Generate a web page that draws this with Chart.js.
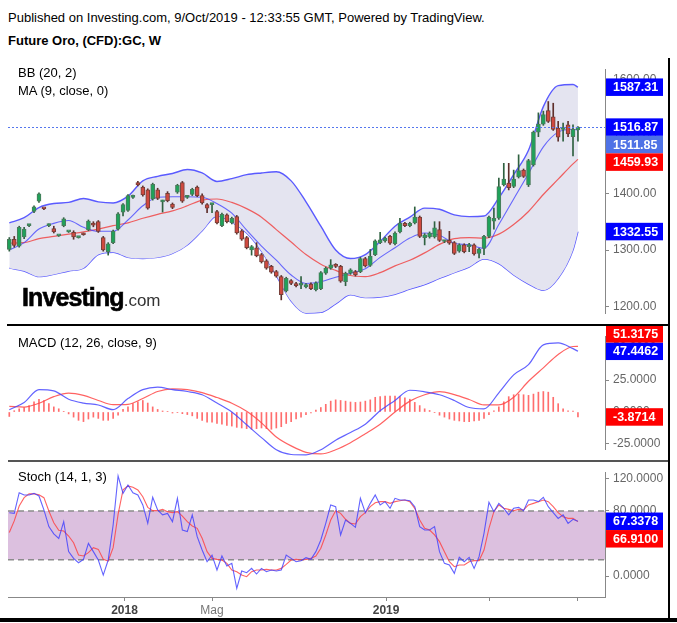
<!DOCTYPE html>
<html>
<head>
<meta charset="utf-8">
<script src="https://cdn.jsdelivr.net/npm/chart.js@4.4.0/dist/chart.umd.min.js"></script>
<style>
body { margin: 0; width: 677px; height: 623px; background: #fff; position: relative; overflow: hidden; font-family: "Liberation Sans", Arial, sans-serif; }
canvas { position: absolute; left: 0; }
.txt { position: absolute; white-space: nowrap; color: #000; font-size: 13px; line-height: 15px; }
.line { position: absolute; }
</style>
</head>
<body>
<div class="txt" style="left:8px;top:10px">Published on Investing.com, 9/Oct/2019 - 12:33:55 GMT, Powered by TradingView.</div>
<div class="txt" style="left:8px;top:33px;font-weight:bold">Future Oro, (CFD):GC, W</div>

<canvas id="price" width="677" height="267" style="top:58px"></canvas>
<canvas id="macd" width="677" height="136" style="top:325px"></canvas>
<canvas id="stoch" width="677" height="157" style="top:461px"></canvas>

<div class="txt" style="left:18px;top:65px">BB (20, 2)</div>
<div class="txt" style="left:18px;top:83px">MA (9, close, 0)</div>
<div class="txt" style="left:18px;top:335px">MACD (12, 26, close, 9)</div>
<div class="txt" style="left:18px;top:469px">Stoch (14, 1, 3)</div>
<div class="txt" style="left:22px;top:285px;font-size:25px;line-height:24px;font-weight:bold;letter-spacing:-0.9px;-webkit-text-stroke:0.6px #000">Investing<span style="font-size:17px;font-weight:normal;color:#333;letter-spacing:0;-webkit-text-stroke:0">.com</span></div>

<div class="line" style="left:7px;top:324px;width:663px;height:2px;background:#000"></div>
<div class="line" style="left:8px;top:460px;width:662px;height:2px;background:#555"></div>
<div class="line" style="left:668px;top:58px;width:2px;height:563px;background:#000"></div>
<div class="line" style="left:0;top:618px;width:677px;height:4px;background:#000"></div>

<script>
// weekly candles, index 0 = Aug 2017, last = Oct 2019
const opens = [1301,1319,1307,1323,1343,1368,1386,1373,1343,1338,
  1325,1343,1332,1331,1322,1329,1336,1346,1350,1322,
  1297,1313,1337,1367,1370,1393,1419,1411,1406,1390,
  1406,1385,1400,1381,1402,1419,1393,1398,1411,1396,
  1380,1380,1368,1343,1362,1348,1359,1334,1322,1300,
  1304,1292,1281,1271,1262,1253,1228,1246,1241,1238,
  1235,1240,1230,1232,1259,1268,1274,1271,1244,1259,
  1262,1262,1285,1273,1292,1313,1316,1324,1311,1332,
  1347,1343,1348,1358,1322,1323,1323,1336,1315,1317,
  1313,1298,1309,1306,1309,1294,1303,1324,1351,1356,
  1415,1418,1412,1429,1441,1415,1450,1508,1522,1546,
  1535,1515,1513,1521,1500,1512]
const closes = [1319,1308,1340,1337,1343.5,1376,1399,1372.5,1345,1332,
  1325.5,1355,1332.5,1323,1322.5,1327,1351,1344,1333,1300,
  1311,1333,1364,1380,1396,1395,1415,1397,1374,1416,
  1391,1386,1387,1375,1414,1386,1394,1407,1396,1383,
  1374,1380.5,1348,1363,1350,1356,1330,1319,1304,1306,
  1290,1279,1268,1261,1254,1221,1250,1241,1237,1238.5,
  1239,1232,1242,1260,1268,1274,1271,1245,1259,1265,
  1256,1285,1272,1289,1316,1318,1321,1312,1330,1347,
  1343,1347,1358,1324,1327,1330,1339,1317,1315.5,1312,
  1294,1309,1297,1306.5,1293,1301,1324,1358,1356,1412,
  1425,1410,1425,1440,1430,1458,1508,1522,1539,1527,
  1513,1499,1513.5,1505,1513,1516.87]
const highs = [1322,1324,1342,1340,1345,1378,1401,1374,1346,1342,
  1326,1357,1333,1334,1323,1330,1353,1350,1352,1324,
  1313,1335,1366,1382,1398,1397,1421,1413,1408,1418,
  1409,1388,1403,1383,1416,1421,1396,1409,1413,1399,
  1382,1382,1370,1365,1364,1358,1361,1336,1324,1308,
  1313,1294,1283,1273,1264,1255,1252,1248,1243,1253,
  1241,1242,1244,1262,1270,1283,1276,1273,1261,1267,
  1264,1287,1287,1301,1318,1331,1323,1326,1332,1356,
  1349,1349,1376,1360,1329,1332,1350,1350,1317,1333,
  1315,1311,1311,1312,1311,1303,1326,1360,1374,1427,
  1453,1453,1441,1468,1443,1460,1510,1542,1545,1562,
  1559,1527,1524,1527,1521,1518]
const lows = [1298,1305,1305,1320,1341,1366,1384,1371,1341,1330,
  1324,1341,1331,1319,1321,1326,1334,1341,1331,1298,
  1291,1311,1335,1360,1368,1391,1413,1395,1372,1388,
  1389,1367,1385,1373,1400,1384,1391,1396,1394,1381,
  1366,1366,1346,1341,1348,1346,1328,1317,1302,1291,
  1288,1277,1266,1259,1252,1212,1226,1239,1235,1232,
  1233,1230,1228,1230,1257,1266,1269,1243,1237,1257,
  1254,1260,1270,1271,1290,1311,1314,1310,1309,1330,
  1341,1341,1346,1322,1309,1321,1321,1315,1313,1310,
  1292,1296,1295,1297,1291,1286,1292,1322,1337,1354,
  1413,1406,1410,1427,1428,1412,1448,1500,1520,1525,
  1511,1492,1492,1500,1466,1492]

// indicator lines read every 3 weeks
const lineWeeks = [0,3,6,9,12,15,18,21,24,27,30,33,36,39,42,45,48,51,54,57,60,63,66,69,72,75,78,81,84,87,90,93,96,99,102,105,108,111,114,115]
const bbUpper = [1348,1357,1375,1382,1384,1391,1385,1383,1395,1422,1430,1435,1442,1436,1421,1426,1433,1436,1438,1422,1385,1342,1300,1285,1292,1315,1342,1358,1374,1372,1362,1359,1360,1392,1433,1476,1553,1590,1592,1587.31]
const bbLower = [1268,1263,1253,1257,1263,1268,1292,1296,1287,1285,1287,1294,1309,1334,1360,1349,1330,1298,1255,1210,1189,1190,1205,1221,1216,1217,1222,1231,1239,1250,1260,1270,1284,1276,1256,1240,1229,1250,1300,1332.55]
const bbBasis = [1312,1313,1320,1324,1328,1332,1337,1343,1348,1356,1363,1369,1378,1388,1390,1384,1373,1358,1336,1314,1292,1275,1264,1255,1253,1260,1272,1282,1295,1310,1320,1322,1321,1328,1345,1368,1398,1425,1452,1459.93]
const ma9 = [1300,1313,1337,1347,1352,1340,1333,1333,1353,1378,1393,1394,1394,1393,1382,1365,1335,1307,1282,1256,1241,1244,1252,1259,1267,1287,1304,1321,1330,1326,1312,1309,1303,1345,1390,1435,1482,1508,1513,1511.85]

const macdLine = [1.8,7.5,17.5,16.5,10,7,5.5,1.8,10.5,17.5,19.5,17.5,16,13.5,7,0,-10,-20,-29.5,-33.2,-33.5,-29.5,-22,-16,-9.5,1,9,17,15.8,13.5,9,3.5,2.5,15,29,37,52.5,54,49.5,47.4462]
const signalLine = [4.4,3.8,6.8,12,14.8,13,9,5.7,6,10.5,16,18,17.5,15.2,11.3,6.8,0.5,-8.5,-19.5,-26.5,-31.5,-32.8,-29.5,-24,-17,-9.5,0,8.5,13.5,15.9,13.6,9.8,5.5,5.5,11.5,24,34.5,45,51.2,51.3175]
const macdHist = [-3.5,1,2.5,3.5,5,8,10,9,6.5,4,
  2.5,0.5,-1.5,-4,-6.5,-7.5,-5.5,-4,-5,-6.5,
  -6.5,-5,-2.5,2,4,6.5,8,9,7,4,
  2,0.8,0.3,-0.8,-0.5,-1.3,-2,-3,-5,-6.5,
  -8,-8,-9,-9.5,-10.5,-11,-12,-12.5,-13,-13.5,
  -13,-12.5,-13,-13.5,-12.5,-11.5,-9,-7.5,-5.5,-4,
  -2,-0.8,1.5,3.5,6,8.5,9.5,9,8.5,7.8,
  7.5,7.8,8.5,9.5,11.5,12,12.5,12.5,12.5,12,
  11,10,7.5,5,2.5,1.2,-0.5,-2.5,-4,-5.5,
  -6.5,-7,-7.5,-7.5,-7,-6.5,-5,-2,1,4,
  8,12,13.5,14,13.5,13,14,15.5,16,15.5,
  11.5,6.5,2.5,1,0.8,-3.8714]

const stochK = [77.9,77.1,102.5,99.7,99.7,101.7,98.5,81.3,60.8,51.8,
  46.3,66.9,30,21.7,16.4,20.5,40.2,30,19.7,1.2,
  19.7,62.8,123.1,101.7,111.9,102.5,99.7,87.4,64.8,96.8,
  81.3,75.2,77.1,66.9,95.6,56.6,54.6,75.2,48.4,32,
  17.6,25.8,7.4,24.6,12.3,15.6,-15.2,6.2,4.1,9.4,
  2.5,9.4,5.3,7.4,6.2,7.4,25.8,21.7,17.6,18.9,
  22.6,20.5,30,44.3,64.8,87.4,85.3,50.5,68.9,64.8,
  59.9,95.6,77.9,89.4,99.7,87.4,91.5,83.3,95.6,93.5,
  93.5,92.7,85.3,60.8,56.6,56.6,60.8,30,15.6,13.5,
  3.3,23,17.6,23,9.4,23.8,52.5,90.7,79.2,89.4,
  83.3,75.2,83.3,84.5,80.4,93.5,93.5,91.5,96.8,85.3,
  77.9,70.9,75.2,64.8,69.8,67.3378]
const stochD = [53.5,67.8,86.2,96.4,101,101,100,96.4,80,65.6,
  56.2,55.4,49.2,41,25.8,24.6,28.7,34.9,32.8,20.5,
  18.5,34.9,75.8,106,110.8,109.1,105.8,97.6,84.5,80.4,
  80.4,82,79.2,78,79.2,73.8,66.9,61.6,58.7,46.4,
  30,21.7,20.5,19.7,15.6,7.4,5.3,1.2,-0.8,5.3,
  7.4,7.4,8.2,7.4,7.4,9.4,14.4,19.7,20.5,19.7,
  20.5,21.7,24.6,34.1,50.5,68.9,80.4,77.1,69.8,64.8,
  64,73,77.9,85.3,90.2,91.5,91.5,89.4,91.5,92.7,
  93.5,91.5,83.3,68.9,58.7,56.6,50.5,42.3,30,17.6,
  11.5,13.5,13.5,17.6,18.9,18.9,32,58.7,79.2,87.4,
  83.3,82,80.4,82,81.3,87.4,89.4,91.5,93.5,91.5,
  85.3,77.9,73,70.9,70.9,66.91]
const stochLevels = [80, 20]

const tickWeeks = [23.3, 41, 76.2, 97.2, 115]
const tickLabels = ['2018', 'Mag', '2019', '', '']
const priceTicks = [1200, 1300, 1400, 1500, 1600]
const macdTicks = [-25, 0, 25, 50]
const stochTicks = [0, 40, 80, 120]

Chart.defaults.font.family = '"Liberation Sans", Arial, sans-serif'

const weeks = opens.map((o, i) => i)
const pts = (xs, ys) => xs.map((x, k) => ({ x: x, y: ys[k] }))
const last = arr => arr[arr.length - 1]
const up = weeks.map(i => closes[i] >= opens[i])
const isYear = c => !!(c.tick && /^\d{4}$/.test(c.tick.label))

// same x mapping in every panel: week value at x=8 and at x=605
const xMin = -0.263
const xMax = 120.47

function xAxis(show) {
  return {
    type: 'linear', min: xMin, max: xMax, offset: false, display: show,
    border: { color: '#888' },
    grid: { drawOnChartArea: false, tickLength: 4, color: '#888' },
    afterBuildTicks: s => { s.ticks = tickWeeks.map(v => ({ value: v })) },
    afterFit: s => { s.height = show ? 21 : 0 },
    ticks: {
      autoSkip: false, maxRotation: 0, padding: 2,
      callback: (v, i) => tickLabels[i],
      color: c => isYear(c) ? '#444' : '#777',
      font: c => ({ size: 12, weight: isYear(c) ? 'bold' : 'normal' })
    }
  }
}

function yAxis(min, max, tickVals, dec) {
  return {
    position: 'right', min: min, max: max,
    border: { color: '#888' },
    grid: { drawOnChartArea: false, tickLength: 4, color: '#888' },
    afterBuildTicks: s => { s.ticks = tickVals.map(v => ({ value: v })) },
    afterFit: s => { s.width = 64 },
    ticks: { color: '#666', font: { size: 12 }, padding: 4, callback: v => v.toFixed(dec) }
  }
}

// the panel should span plotH pixels from the canvas top; correct min/max for
// whatever padding Chart.js put around the plot area
function fitPanel(chart, vTop, vBot, plotH) {
  const a = chart.chartArea
  const per = (vTop - vBot) / plotH
  chart.options.scales.y.max = vTop - a.top * per
  chart.options.scales.y.min = vTop - a.bottom * per
  const perX = (xMax - xMin) / 597
  chart.options.scales.x.min = xMin - (a.left - 8) * perX
  chart.options.scales.x.max = xMax + (a.right - 605) * perX
  chart.update()
}

const valueLabels = {
  id: 'valueLabels',
  afterDraw(chart, args, opts) {
    if (!opts.items) return
    const ctx = chart.ctx
    const y = chart.scales.y
    const h = 17.5
    const list = opts.items.map(it => ({ text: it.text, bg: it.bg, value: it.value, py: y.getPixelForValue(it.value) }))
    list.sort((a, b) => opts.dir === 'up' ? a.value - b.value : b.value - a.value)
    for (let k = 1; k < list.length; k++) {
      if (opts.dir === 'up') {
        if (list[k].py > list[k - 1].py - h) list[k].py = list[k - 1].py - h
      } else {
        if (list[k].py < list[k - 1].py + h) list[k].py = list[k - 1].py + h
      }
    }
    const left = chart.chartArea.right + 1
    ctx.save()
    ctx.font = 'bold 12.5px "Liberation Sans", Arial'
    ctx.textBaseline = 'middle'
    list.forEach(it => {
      ctx.fillStyle = it.bg
      ctx.fillRect(left, it.py - h / 2, 57, h)
      ctx.fillStyle = '#fff'
      ctx.fillText(it.text, left + 7, it.py + 0.5)
    })
    ctx.restore()
  }
}

const bandPlugin = {
  id: 'band',
  beforeDatasetsDraw(chart, args, opts) {
    if (!opts.levels) return
    const ctx = chart.ctx
    const a = chart.chartArea
    const y = chart.scales.y
    const y1 = y.getPixelForValue(opts.levels[0])
    const y2 = y.getPixelForValue(opts.levels[1])
    ctx.save()
    ctx.fillStyle = '#dcc0df'
    ctx.fillRect(a.left, y1, a.right - a.left, y2 - y1)
    ctx.strokeStyle = '#8c8c8c'
    ctx.lineWidth = 1.5
    ctx.setLineDash([6, 4])
    for (const yy of [y1, y2]) {
      ctx.beginPath()
      ctx.moveTo(a.left, yy)
      ctx.lineTo(a.right, yy)
      ctx.stroke()
    }
    ctx.restore()
  }
}

const closeLine = {
  id: 'closeLine',
  afterDatasetsDraw(chart, args, opts) {
    if (opts.value === undefined) return
    const ctx = chart.ctx
    const a = chart.chartArea
    const yy = Math.round(chart.scales.y.getPixelForValue(opts.value)) + 0.5
    ctx.save()
    ctx.strokeStyle = '#5577ee'
    ctx.lineWidth = 1
    ctx.setLineDash([2, 2])
    ctx.beginPath()
    ctx.moveTo(a.left, yy)
    ctx.lineTo(a.right, yy)
    ctx.stroke()
    ctx.restore()
  }
}

const baseOpts = {
  animation: false, responsive: false, maintainAspectRatio: false,
  layout: { padding: { left: 8, right: 8, top: 0, bottom: 0 }, autoPadding: false }
}

// Prezzo + BB + MA
const priceChart = new Chart(document.getElementById('price'), {
  type: 'bar',
  data: {
    datasets: [
      { type: 'line', data: pts(lineWeeks, bbUpper), borderColor: '#5a5aff', borderWidth: 1.4, pointRadius: 0, cubicInterpolationMode: 'monotone', fill: '+1', backgroundColor: '#e4e4f0', clip: false, order: 6 },
      { type: 'line', data: pts(lineWeeks, bbLower), borderColor: '#5a5aff', borderWidth: 1.4, pointRadius: 0, cubicInterpolationMode: 'monotone', fill: false, clip: false, order: 6 },
      { type: 'line', data: pts(lineWeeks, bbBasis), borderColor: 'rgba(240,70,70,0.85)', borderWidth: 1.2, pointRadius: 0, cubicInterpolationMode: 'monotone', fill: false, clip: false, order: 4 },
      { type: 'line', data: pts(lineWeeks, ma9), borderColor: 'rgba(70,70,255,0.8)', borderWidth: 1.1, pointRadius: 0, cubicInterpolationMode: 'monotone', fill: false, clip: false, order: 3 },
      { data: weeks.map(i => ({ x: i, y: [lows[i], highs[i]] })), backgroundColor: weeks.map(i => up[i] ? '#2f6140' : '#5e2f2b'), barThickness: 1, grouped: false, clip: false, order: 2 },
      { data: weeks.map(i => ({ x: i, y: [opens[i], closes[i]] })), backgroundColor: weeks.map(i => up[i] ? '#1fa25a' : '#d0493f'), borderColor: weeks.map(i => up[i] ? '#4d7a5c' : '#73403a'), borderWidth: 1, borderSkipped: false, barThickness: 4, minBarLength: 2, grouped: false, clip: false, order: 1 }
    ]
  },
  options: Object.assign({}, baseOpts, {
    scales: { x: xAxis(false), y: yAxis(1167.7, 1638.8, priceTicks, 2) },
    plugins: {
      legend: { display: false }, tooltip: { enabled: false },
      closeLine: { value: last(closes) },
      valueLabels: {
        dir: 'down',
        items: [
          { value: last(bbUpper), text: last(bbUpper).toFixed(2), bg: '#0000ff' },
          { value: last(closes), text: last(closes).toFixed(2), bg: '#0000ff' },
          { value: last(ma9), text: last(ma9).toFixed(2), bg: '#4f72e6' },
          { value: last(bbBasis), text: last(bbBasis).toFixed(2), bg: '#ff0000' },
          { value: last(bbLower), text: last(bbLower).toFixed(2), bg: '#0000ff' }
        ]
      }
    }
  }),
  plugins: [closeLine, valueLabels]
})
fitPanel(priceChart, 1638.8, 1167.7, 267)

// MACD
const macdChart = new Chart(document.getElementById('macd'), {
  type: 'bar',
  data: {
    datasets: [
      { type: 'line', data: pts(lineWeeks, macdLine), borderColor: 'rgba(70,70,255,0.85)', borderWidth: 1.2, pointRadius: 0, cubicInterpolationMode: 'monotone', clip: false, order: 1 },
      { type: 'line', data: pts(lineWeeks, signalLine), borderColor: 'rgba(255,70,70,0.85)', borderWidth: 1.2, pointRadius: 0, cubicInterpolationMode: 'monotone', clip: false, order: 1 },
      { data: weeks.map(i => ({ x: i, y: macdHist[i] })), backgroundColor: 'rgba(255,60,60,0.75)', barThickness: 1, grouped: false, clip: false, order: 3 }
    ]
  },
  options: Object.assign({}, baseOpts, {
    scales: { x: xAxis(false), y: yAxis(-38.3, 68, macdTicks, 4) },
    plugins: {
      legend: { display: false }, tooltip: { enabled: false },
      valueLabels: {
        dir: 'up',
        items: [
          { value: last(signalLine), text: last(signalLine).toFixed(4), bg: '#ff0000' },
          { value: last(macdLine), text: last(macdLine).toFixed(4), bg: '#0000ff' },
          { value: last(macdHist), text: last(macdHist).toFixed(4), bg: '#ff0000' }
        ]
      }
    }
  }),
  plugins: [valueLabels]
})
fitPanel(macdChart, 68, -38.3, 136)

// Stocastico
const stochChart = new Chart(document.getElementById('stoch'), {
  type: 'line',
  data: {
    datasets: [
      { data: pts(weeks, stochK), borderColor: 'rgba(60,60,255,0.8)', borderWidth: 1.1, pointRadius: 0, tension: 0, clip: false },
      { data: pts(weeks, stochD), borderColor: 'rgba(255,60,60,0.8)', borderWidth: 1.1, pointRadius: 0, tension: 0, clip: false }
    ]
  },
  options: Object.assign({}, baseOpts, {
    scales: { x: xAxis(true), y: yAxis(-25.8, 141.5, stochTicks, 4) },
    plugins: {
      legend: { display: false }, tooltip: { enabled: false },
      band: { levels: stochLevels },
      valueLabels: {
        dir: 'down',
        items: [
          { value: last(stochK), text: last(stochK).toFixed(4), bg: '#0000ff' },
          { value: last(stochD), text: last(stochD).toFixed(4), bg: '#ff0000' }
        ]
      }
    }
  }),
  plugins: [bandPlugin, valueLabels]
})
fitPanel(stochChart, 141.5, -25.8, 136)
</script>
</body>
</html>
